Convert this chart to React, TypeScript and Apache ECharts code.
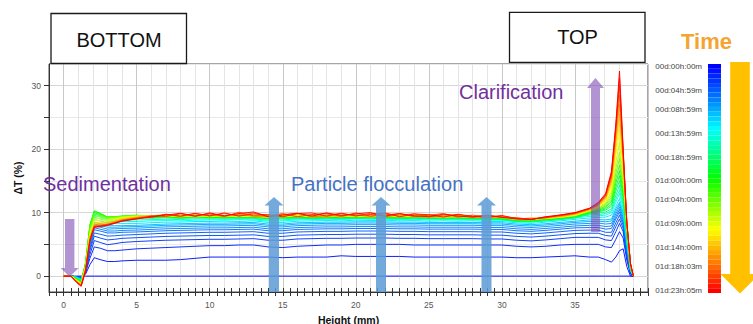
import React, { useEffect, useRef } from 'react';
import * as echarts from 'echarts';

// ---------- data ----------
const heights = [0, 0.5, 0.9, 1.2, 1.5, 1.8, 2.1, 2.5, 3, 3.5, 4, 5, 6, 7, 8, 9, 10, 11, 12, 13, 14, 15, 16, 17, 18, 19, 20, 21, 22, 23, 24, 25, 26, 27, 28, 29, 30, 31, 32, 33, 34, 35, 36, 36.6, 37.1, 37.5, 37.8, 38.05, 38.3, 38.55, 38.8, 39];

const scanHours = [0, 1, 2, 3, 4, 5, 6, 7, 8, 9, 10, 12, 14, 16, 18, 20, 22, 24, 26, 28, 30, 32, 34, 36, 38, 40, 42, 44, 46, 47.08];
const totalHours = 47.08;

const t00 = [0, 0, 0, 0, 0, 0, 0, 0, 0, 0, 0, 0, 0, 0, 0, 0, 0, 0, 0, 0, 0, 0, 0, 0, 0, 0, 0, 0, 0, 0, 0, 0, 0, 0, 0, 0, 0, 0, 0, 0, 0, 0, 0, 0, 0, 0, 0, 0, 0, 0, 0, 0];
const t01 = [0, 0, -0.1, -0.2, 0.3, 1.8, 2.9, 2.6, 2.3, 2.3, 2.4, 2.5, 2.5, 2.5, 2.6, 2.8, 3.0, 3.0, 3.0, 3.0, 3.0, 2.9, 3.0, 3.0, 3.0, 3.2, 3.1, 3.1, 3.1, 3.1, 3.0, 3.0, 3.0, 3.0, 3.0, 3.0, 3.0, 2.9, 2.9, 3.0, 3.1, 3.2, 3.0, 3.0, 2.6, 2.2, 3.0, 4.0, 4.3, 1.5, 0, 0];
const t02 = [0, 0, -0.1, -0.2, 0.5, 2.8, 4.6, 4.4, 4.0, 4.0, 4.1, 4.3, 4.4, 4.5, 4.6, 4.7, 4.8, 4.8, 4.9, 4.9, 4.6, 4.5, 4.7, 4.8, 4.9, 4.9, 5.0, 5.0, 5.0, 5.0, 4.9, 4.9, 4.9, 4.9, 4.9, 4.9, 4.9, 4.7, 4.6, 4.7, 4.9, 5.0, 5.0, 5.0, 4.6, 4.5, 5.8, 7.0, 6.0, 2.5, 0.3, 0];
const t03 = [0, 0, -0.1, -0.3, 0.6, 3.4, 5.6, 5.3, 4.95, 5.1, 5.3, 5.45, 5.55, 5.65, 5.7, 5.75, 5.8, 5.8, 5.85, 5.9, 5.65, 5.65, 5.85, 5.9, 5.95, 5.95, 6.0, 6.0, 6.0, 5.95, 5.95, 5.9, 5.9, 5.9, 5.9, 5.85, 5.85, 5.65, 5.55, 5.7, 5.9, 6.1, 6.1, 6.1, 5.7, 5.6, 7.0, 8.3, 7.0, 3.0, 0.4, 0];
const t04 = [0, 0, -0.1, -0.3, 0.8, 4.0, 6.3, 6.0, 5.7, 5.8, 5.95, 6.05, 6.15, 6.25, 6.3, 6.35, 6.4, 6.4, 6.45, 6.5, 6.25, 6.25, 6.45, 6.5, 6.55, 6.55, 6.6, 6.6, 6.6, 6.55, 6.55, 6.5, 6.5, 6.5, 6.5, 6.45, 6.45, 6.25, 6.15, 6.3, 6.5, 6.7, 6.75, 6.75, 6.4, 6.3, 7.8, 9.0, 7.5, 3.4, 0.5, 0];
const t05 = [0, 0, -0.1, -0.3, 0.9, 4.4, 6.8, 6.6, 6.3, 6.35, 6.45, 6.55, 6.65, 6.75, 6.8, 6.85, 6.9, 6.9, 6.95, 7.0, 6.75, 6.75, 6.95, 7.0, 7.05, 7.05, 7.1, 7.1, 7.1, 7.05, 7.05, 7.0, 7.0, 7.0, 7.0, 6.95, 6.95, 6.75, 6.65, 6.8, 7.0, 7.2, 7.25, 7.25, 6.9, 6.9, 8.4, 9.6, 8.0, 3.8, 0.6, 0];
const t06 = [0, 0, -0.15, -0.35, 1.0, 4.8, 7.3, 7.1, 6.8, 6.8, 6.9, 6.95, 7.05, 7.15, 7.2, 7.25, 7.3, 7.3, 7.35, 7.4, 7.15, 7.15, 7.35, 7.4, 7.45, 7.45, 7.5, 7.5, 7.5, 7.45, 7.45, 7.4, 7.4, 7.4, 7.4, 7.35, 7.35, 7.15, 7.05, 7.2, 7.4, 7.6, 7.65, 7.65, 7.4, 7.5, 9.0, 10.1, 8.4, 4.1, 0.7, 0];
const t07 = [0, 0, -0.15, -0.4, 1.1, 5.2, 7.6, 7.4, 7.1, 7.1, 7.2, 7.25, 7.35, 7.45, 7.5, 7.55, 7.6, 7.6, 7.65, 7.7, 7.45, 7.45, 7.65, 7.7, 7.75, 7.75, 7.8, 7.8, 7.8, 7.75, 7.75, 7.7, 7.7, 7.7, 7.7, 7.65, 7.65, 7.45, 7.35, 7.5, 7.7, 7.9, 8.0, 8.0, 7.8, 7.9, 9.4, 10.5, 8.8, 4.4, 0.8, 0];
const t08 = [0, 0, -0.15, -0.4, 1.2, 5.5, 7.9, 7.7, 7.4, 7.45, 7.5, 7.55, 7.65, 7.75, 7.8, 7.85, 7.9, 7.9, 7.95, 8.0, 7.75, 7.75, 7.95, 8.0, 8.05, 8.05, 8.1, 8.1, 8.1, 8.05, 8.05, 8.0, 8.0, 8.0, 8.0, 7.95, 7.95, 7.75, 7.65, 7.8, 8.0, 8.2, 8.3, 8.35, 8.2, 8.3, 9.8, 10.9, 9.2, 4.8, 0.9, 0];
const t09 = [0, 0, -0.2, -0.45, 1.2, 5.8, 8.2, 8.0, 7.7, 7.7, 7.75, 7.8, 7.9, 8.0, 8.05, 8.1, 8.15, 8.15, 8.2, 8.25, 8.0, 8.0, 8.2, 8.25, 8.3, 8.3, 8.35, 8.35, 8.35, 8.3, 8.3, 8.25, 8.25, 8.25, 8.25, 8.2, 8.2, 8.0, 7.9, 8.05, 8.25, 8.45, 8.6, 8.65, 8.55, 8.7, 10.2, 11.3, 9.6, 5.1, 1.0, 0];
const t10 = [0, 0, -0.2, -0.5, 1.2, 6.0, 8.5, 8.3, 7.95, 7.95, 7.95, 8.0, 8.1, 8.2, 8.25, 8.3, 8.35, 8.35, 8.4, 8.45, 8.2, 8.2, 8.4, 8.45, 8.5, 8.5, 8.55, 8.55, 8.55, 8.5, 8.5, 8.45, 8.45, 8.45, 8.45, 8.4, 8.4, 8.2, 8.1, 8.25, 8.45, 8.65, 8.85, 8.9, 8.85, 9.0, 10.6, 11.6, 10.0, 5.4, 1.1, 0];
const t12 = [0, 0, -0.2, -0.55, 1.3, 6.4, 8.9, 8.7, 8.35, 8.35, 8.3, 8.3, 8.4, 8.5, 8.5, 8.6, 8.6, 8.65, 8.6, 8.7, 8.45, 8.45, 8.65, 8.7, 8.75, 8.7, 8.8, 8.75, 8.8, 8.7, 8.75, 8.65, 8.7, 8.65, 8.7, 8.6, 8.6, 8.4, 8.3, 8.5, 8.7, 8.95, 9.15, 9.25, 9.3, 9.6, 11.0, 12.2, 10.0, 5.2, 0.9, 0];
const t14 = [0, 0, -0.25, -0.6, 1.4, 6.8, 9.3, 9.0, 8.6, 8.6, 8.6, 8.6, 8.7, 8.75, 8.7, 8.8, 8.85, 8.8, 8.9, 8.85, 8.65, 8.7, 8.85, 8.9, 8.95, 8.9, 9.0, 8.95, 8.95, 8.9, 8.95, 8.85, 8.9, 8.85, 8.85, 8.8, 8.8, 8.55, 8.5, 8.7, 8.9, 9.15, 9.4, 9.5, 9.6, 10.0, 11.6, 13.0, 10.6, 5.6, 1.0, 0];
const t16 = [0, 0, -0.3, -0.65, 1.5, 7.2, 9.6, 9.3, 8.8, 8.8, 8.85, 8.85, 8.9, 8.95, 8.9, 9.0, 9.0, 8.95, 9.05, 9.0, 8.8, 8.85, 9.0, 9.05, 9.1, 9.05, 9.1, 9.1, 9.05, 9.05, 9.1, 9.0, 9.05, 9.0, 9.0, 8.95, 8.9, 8.7, 8.65, 8.85, 9.05, 9.3, 9.6, 9.7, 9.85, 10.3, 12.1, 13.6, 11.2, 6.0, 1.1, 0];
const t18 = [0, 0, -0.3, -0.7, 1.6, 7.5, 9.8, 9.5, 9.0, 9.0, 9.1, 9.3, 9.1, 9.15, 9.1, 9.15, 9.15, 9.1, 9.15, 9.1, 8.95, 9.05, 9.1, 9.05, 9.1, 9.1, 9.1, 9.1, 9.1, 9.05, 9.05, 9.05, 9.0, 9.0, 8.95, 8.95, 8.9, 8.6, 8.55, 8.7, 8.9, 9.15, 9.75, 9.9, 10.1, 10.6, 12.7, 14.3, 11.7, 6.3, 1.2, 0];
const t20 = [0, 0, -0.35, -0.75, 1.8, 7.8, 10.0, 9.7, 9.2, 9.2, 9.3, 9.5, 9.2, 9.3, 9.15, 9.3, 9.2, 9.25, 9.2, 9.3, 9.05, 9.15, 9.25, 9.15, 9.2, 9.25, 9.15, 9.25, 9.2, 9.15, 9.2, 9.1, 9.15, 9.05, 9.1, 9.05, 9.0, 8.7, 8.65, 8.85, 9.05, 9.3, 9.85, 10.1, 10.4, 11.0, 13.4, 15.0, 12.3, 6.6, 1.3, 0];
const t22 = [0, 0, -0.4, -0.85, 2.0, 8.0, 10.2, 9.8, 9.3, 9.3, 9.4, 9.55, 9.25, 9.4, 9.2, 9.35, 9.3, 9.2, 9.35, 9.25, 9.1, 9.25, 9.3, 9.2, 9.3, 9.2, 9.3, 9.25, 9.3, 9.2, 9.25, 9.2, 9.15, 9.2, 9.1, 9.15, 9.05, 8.75, 8.7, 8.9, 9.1, 9.35, 9.95, 10.2, 10.6, 11.3, 14.0, 15.8, 12.8, 6.9, 1.4, 0];
const t24 = [0, 0, -0.45, -0.95, 2.2, 8.1, 10.3, 9.9, 9.3, 9.35, 9.45, 9.6, 9.3, 9.35, 9.3, 9.45, 9.3, 9.35, 9.4, 9.3, 9.15, 9.3, 9.35, 9.3, 9.25, 9.35, 9.3, 9.4, 9.25, 9.3, 9.3, 9.2, 9.25, 9.25, 9.15, 9.2, 9.1, 8.8, 8.75, 8.95, 9.15, 9.4, 10.05, 10.35, 10.8, 11.7, 14.7, 16.6, 13.4, 7.2, 1.5, 0];
const t26 = [0, 0, -0.5, -1.0, 2.0, 7.9, 10.1, 9.8, 9.3, 9.35, 9.45, 9.55, 9.35, 9.4, 9.35, 9.45, 9.4, 9.3, 9.45, 9.35, 9.2, 9.3, 9.4, 9.35, 9.3, 9.45, 9.35, 9.3, 9.4, 9.3, 9.35, 9.3, 9.2, 9.3, 9.2, 9.2, 9.15, 8.85, 8.8, 9.0, 9.2, 9.45, 10.15, 10.5, 11.0, 12.0, 15.4, 17.5, 14.0, 7.4, 1.6, 0];
const t28 = [0, 0, -0.55, -1.05, 1.8, 7.6, 9.8, 9.6, 9.2, 9.3, 9.4, 9.55, 9.4, 9.45, 9.4, 9.5, 9.35, 9.45, 9.4, 9.5, 9.2, 9.35, 9.45, 9.35, 9.45, 9.35, 9.45, 9.4, 9.35, 9.45, 9.35, 9.3, 9.35, 9.25, 9.3, 9.2, 9.2, 8.9, 8.85, 9.05, 9.25, 9.5, 10.2, 10.6, 11.2, 12.4, 16.2, 18.5, 14.6, 7.6, 1.6, 0];
const t30 = [0, 0, -0.6, -1.1, 1.5, 7.2, 9.4, 9.4, 9.1, 9.2, 9.35, 9.5, 9.35, 9.5, 9.4, 9.45, 9.5, 9.4, 9.5, 9.4, 9.3, 9.45, 9.4, 9.45, 9.35, 9.5, 9.4, 9.45, 9.4, 9.35, 9.45, 9.35, 9.3, 9.35, 9.3, 9.3, 9.25, 8.95, 8.9, 9.1, 9.3, 9.55, 10.25, 10.7, 11.4, 12.8, 17.0, 19.5, 15.2, 7.8, 1.7, 0];
const t32 = [0, 0, -0.65, -1.2, 1.5, 6.8, 9.0, 9.1, 8.9, 9.1, 9.3, 9.45, 9.4, 9.5, 9.35, 9.5, 9.4, 9.5, 9.4, 9.45, 9.3, 9.4, 9.5, 9.35, 9.45, 9.4, 9.45, 9.35, 9.45, 9.4, 9.35, 9.45, 9.3, 9.4, 9.3, 9.25, 9.3, 8.95, 8.95, 9.1, 9.25, 9.55, 10.3, 10.8, 11.6, 13.3, 18.0, 21.0, 15.8, 8.0, 1.7, 0];
const t34 = [0, 0, -0.7, -1.25, 1.4, 6.6, 8.7, 8.8, 8.7, 8.95, 9.2, 9.4, 9.45, 9.55, 9.4, 9.55, 9.45, 9.55, 9.4, 9.5, 9.35, 9.45, 9.55, 9.35, 9.5, 9.45, 9.5, 9.4, 9.5, 9.45, 9.4, 9.5, 9.35, 9.45, 9.35, 9.3, 9.35, 9.0, 9.0, 9.1, 9.3, 9.6, 10.35, 10.9, 11.8, 13.8, 19.0, 22.5, 16.5, 8.1, 1.8, 0];
const t36 = [0, 0, -0.75, -1.3, 1.3, 6.4, 8.4, 8.5, 8.5, 8.8, 9.1, 9.35, 9.5, 9.45, 9.6, 9.4, 9.6, 9.5, 9.45, 9.6, 9.4, 9.5, 9.6, 9.4, 9.5, 9.6, 9.45, 9.55, 9.5, 9.4, 9.55, 9.45, 9.4, 9.5, 9.35, 9.4, 9.3, 9.05, 9.05, 9.15, 9.35, 9.65, 10.4, 11.0, 12.0, 14.3, 20.0, 24.0, 17.2, 8.2, 1.8, 0];
const t38 = [0, 0, -0.8, -1.35, 1.2, 6.2, 8.2, 8.3, 8.35, 8.65, 8.95, 9.3, 9.5, 9.7, 9.35, 9.75, 9.6, 9.4, 9.8, 9.4, 9.55, 9.75, 9.35, 9.7, 9.6, 9.3, 9.8, 9.5, 9.4, 9.7, 9.5, 9.3, 9.6, 9.45, 9.3, 9.5, 9.25, 9.05, 8.9, 9.25, 9.35, 9.75, 10.45, 11.1, 12.2, 14.8, 21.0, 25.5, 17.8, 8.3, 1.9, 0];
const t40 = [0, 0, -0.85, -1.4, 1.1, 6.0, 8.0, 8.1, 8.2, 8.5, 8.85, 9.2, 9.55, 9.35, 9.8, 9.4, 9.85, 9.45, 9.7, 9.45, 9.65, 9.4, 9.8, 9.5, 9.35, 9.8, 9.65, 9.35, 9.9, 9.45, 9.6, 9.7, 9.35, 9.55, 9.4, 9.25, 9.5, 9.0, 9.15, 9.15, 9.45, 9.8, 10.5, 11.2, 12.4, 15.2, 21.8, 27.0, 18.4, 8.3, 1.9, 0];
const t42 = [0, 0, -0.9, -1.45, 1.0, 5.8, 7.9, 8.0, 8.15, 8.45, 8.8, 9.15, 9.3, 9.7, 9.4, 9.85, 9.45, 9.85, 9.5, 9.95, 9.35, 9.7, 9.9, 9.3, 9.65, 9.85, 9.45, 9.9, 9.35, 9.65, 9.8, 9.3, 9.6, 9.7, 9.25, 9.55, 9.35, 9.15, 8.95, 9.25, 9.5, 9.85, 10.55, 11.3, 12.6, 15.6, 22.6, 28.5, 19.0, 8.4, 1.9, 0];
const t44 = [0, 0, -0.95, -1.5, 0.9, 5.7, 7.8, 7.9, 8.1, 8.4, 8.75, 9.1, 9.45, 9.4, 9.85, 9.45, 9.8, 9.4, 10.05, 9.5, 9.45, 9.85, 9.35, 9.7, 9.9, 9.4, 9.95, 9.45, 9.65, 9.85, 9.35, 9.6, 9.85, 9.3, 9.6, 9.35, 9.3, 9.2, 8.9, 9.35, 9.55, 9.9, 10.6, 11.4, 12.7, 15.9, 23.2, 30.0, 19.4, 8.4, 2.0, 0];
const t46 = [0, 0, -1.0, -1.55, 0.8, 5.6, 7.75, 7.85, 8.05, 8.35, 8.7, 9.05, 9.25, 9.75, 9.45, 9.9, 9.5, 9.95, 9.45, 9.8, 9.65, 9.35, 9.85, 9.95, 9.45, 9.9, 9.5, 9.7, 9.95, 9.35, 9.8, 9.65, 9.3, 9.75, 9.4, 9.25, 9.55, 9.05, 9.0, 9.2, 9.65, 9.95, 10.65, 11.5, 12.85, 16.2, 23.6, 31.2, 19.7, 8.5, 2.0, 0];
const t47 = [0, 0, -1.0, -1.6, 0.7, 5.5, 7.7, 7.8, 8.0, 8.3, 8.65, 9.0, 9.4, 9.6, 9.9, 9.45, 9.95, 9.5, 9.85, 10.1, 9.35, 9.6, 9.9, 9.45, 9.95, 9.55, 9.8, 10.0, 9.45, 9.85, 9.5, 9.35, 9.75, 9.45, 9.3, 9.6, 9.25, 9.0, 8.9, 9.35, 9.6, 10.0, 10.7, 11.6, 13.0, 16.5, 24.0, 32.3, 20.0, 8.5, 2.0, 0];

const profiles = [t00, t01, t02, t03, t04, t05, t06, t07, t08, t09, t10, t12, t14, t16, t18, t20, t22, t24, t26, t28, t30, t32, t34, t36, t38, t40, t42, t44, t46, t47];

const xTickLabels = [0, 5, 10, 15, 20, 25, 30, 35];
const yTicks = [0, 5, 10, 15, 20, 25, 30];
const yTickLabels = [0, 10, 20, 30];

const scanCount = 48;
const barLabelScans = [0, 5, 9, 14, 19, 24, 28, 33, 38, 42, 47];
const barLabels = ['00d:00h:00m', '00d:04h:59m', '00d:08h:59m', '00d:13h:59m', '00d:18h:59m', '01d:00h:00m', '01d:04h:00m', '01d:09h:00m', '01d:14h:00m', '01d:18h:03m', '01d:23h:05m'];

// ---------- styles ----------
const FONT = "'Liberation Sans', Arial, Helvetica, sans-serif";
const colorStops: Array<[number, number[]]> = [
  [0, [0, 0, 255]],
  [0.13, [0, 112, 255]],
  [0.28, [0, 255, 255]],
  [0.5, [0, 255, 0]],
  [0.73, [255, 255, 0]],
  [0.87, [255, 128, 0]],
  [1, [255, 0, 0]],
];
function colorAt(f: number): string {
  for (let k = 1; k < colorStops.length; k++) {
    const [f0, c0] = colorStops[k - 1];
    const [f1, c1] = colorStops[k];
    if (f <= f1) {
      const u = (f - f0) / (f1 - f0);
      const c = c0.map((v, j) => Math.round(v + (c1[j] - v) * u));
      return `rgb(${c[0]},${c[1]},${c[2]})`;
    }
  }
  return 'rgb(255,0,0)';
}

const NONE = 'rgba(0,0,0,0)';
const GL = '#e4e4e4';
const GD = '#c8c8c8';
const purpleArrow = 'rgba(120,70,175,0.58)';
const blueArrow = 'rgba(91,155,213,0.85)';

function upArrow(cx: number, tip: number, headBase: number, bottom: number, headHalf: number, shaftHalf: number) {
  return [
    [cx, tip], [cx + headHalf, headBase], [cx + shaftHalf, headBase], [cx + shaftHalf, bottom],
    [cx - shaftHalf, bottom], [cx - shaftHalf, headBase], [cx - headHalf, headBase],
  ];
}
function downArrow(cx: number, top: number, headBase: number, tip: number, headHalf: number, shaftHalf: number) {
  return [
    [cx - shaftHalf, top], [cx + shaftHalf, top], [cx + shaftHalf, headBase], [cx + headHalf, headBase],
    [cx, tip], [cx - headHalf, headBase], [cx - shaftHalf, headBase],
  ];
}

function buildOption() {
  const lineSeries = profiles.map((p, s) => ({
    type: 'line',
    xAxisIndex: 0,
    yAxisIndex: 0,
    data: heights.map((h, i) => [h, p[i]]),
    symbol: 'none',
    showSymbol: false,
    silent: true,
    lineStyle: { width: 1, color: colorAt(scanHours[s] / totalHours), opacity: 0.95 },
    z: 2,
  }));

  const scanNames: string[] = [];
  const barData: any[] = [];
  for (let i = 0; i < scanCount; i++) {
    const k = barLabelScans.indexOf(i);
    scanNames.push(k >= 0 ? barLabels[k] : '');
    barData.push({ value: 1, itemStyle: { color: colorAt(i / (scanCount - 1)) } });
  }

  const textBase = { fontFamily: FONT };

  return {
    animation: false,
    backgroundColor: '#ffffff',
    textStyle: { fontFamily: FONT },
    grid: [
      { left: 49, top: 64, width: 599, height: 228, show: true, borderColor: '#4a4a4a', borderWidth: 1, backgroundColor: 'transparent', containLabel: false, outerBoundsMode: 'none' },
      { left: 708, top: 64, width: 13, height: 229, show: false, containLabel: false, outerBoundsMode: 'none' },
    ],
    xAxis: [
      {
        type: 'value', gridIndex: 0, position: 'bottom', min: -1, max: 40, interval: 0.5,
        axisLine: { show: true, onZero: false, lineStyle: { color: '#333', width: 1 } },
        axisTick: { show: true, inside: false, length: 4, lineStyle: { color: '#333', width: 1 } },
        axisLabel: { customValues: xTickLabels, fontSize: 8.5, color: '#555', margin: 8 },
        splitLine: { show: true, lineStyle: { width: 1, color: [GL, NONE, GD, NONE, GL, NONE, GL, NONE, GL, NONE] } },
        name: 'Height (mm)', nameLocation: 'middle', nameGap: 22, nameMoveOverlap: false,
        nameTextStyle: { fontWeight: 'bold', fontSize: 10.5, color: '#111' },
      },
      {
        type: 'value', gridIndex: 0, position: 'bottom', min: -1, max: 40, interval: 0.5,
        axisLine: { show: false, onZero: false },
        axisTick: { show: true, inside: true, length: 4, lineStyle: { color: '#333', width: 1 } },
        axisLabel: { show: false },
        splitLine: { show: false },
      },
      {
        type: 'value', gridIndex: 1, min: 0, max: 1, show: false,
      },
    ],
    yAxis: [
      {
        type: 'value', gridIndex: 0, position: 'left', min: -2.5, max: 33.4, interval: 2.5,
        axisLine: { show: true, onZero: false, lineStyle: { color: '#333', width: 1 } },
        axisTick: { show: true, customValues: yTicks, length: 5, lineStyle: { color: '#333', width: 1 } },
        axisLabel: { customValues: yTickLabels, fontSize: 8.5, color: '#555', margin: 8 },
        splitLine: { show: false },
        name: 'ΔT (%)', nameLocation: 'middle', nameGap: 26, nameRotate: 90, nameMoveOverlap: false,
        nameTextStyle: { fontWeight: 'bold', fontSize: 10.5, color: '#111' },
      },
      {
        type: 'value', gridIndex: 0, position: 'left', min: -2.5, max: 33.4, interval: 2.5,
        axisLine: { show: false, onZero: false }, axisTick: { show: false }, axisLabel: { show: false },
        splitLine: { show: true, lineStyle: { width: 1, color: [NONE, '#d6d6d6', NONE, '#e9e9e9'] } },
      },
      {
        type: 'category', gridIndex: 1, inverse: true, data: scanNames,
        axisLine: { show: false }, axisTick: { show: false }, splitLine: { show: false },
        axisLabel: { interval: 0, fontSize: 8, color: '#444', margin: 6 },
      },
    ],
    series: [
      ...lineSeries,
      {
        type: 'bar', xAxisIndex: 2, yAxisIndex: 2, data: barData,
        barCategoryGap: '0%', barWidth: '100%', silent: true,
      },
    ],
    graphic: [
      // BOTTOM / TOP boxes
      { type: 'rect', z: 20, shape: { x: 51, y: 13.5, width: 135.5, height: 50 }, style: { fill: '#fff', stroke: '#1a1a1a', lineWidth: 1.3 } },
      { type: 'text', z: 21, x: 119, y: 39.5, style: { ...textBase, text: 'BOTTOM', fontSize: 20, fill: '#111', align: 'center', verticalAlign: 'middle' } },
      { type: 'rect', z: 20, shape: { x: 509.5, y: 12.3, width: 135.5, height: 50 }, style: { fill: '#fff', stroke: '#1a1a1a', lineWidth: 1.3 } },
      { type: 'text', z: 21, x: 577.5, y: 37, style: { ...textBase, text: 'TOP', fontSize: 20, fill: '#111', align: 'center', verticalAlign: 'middle' } },
      // Time arrow
      { type: 'text', z: 21, x: 706.5, y: 41, style: { ...textBase, text: 'Time', fontSize: 22, fontWeight: 'bold', fill: '#F4A431', align: 'center', verticalAlign: 'middle' } },
      { type: 'polygon', z: 20, shape: { points: downArrow(740, 62, 274, 293.5, 19.5, 9.8) }, style: { fill: '#FFC000' } },
      // annotation arrows
      { type: 'polygon', z: 30, shape: { points: downArrow(69.7, 219, 268, 276.7, 9, 4.7) }, style: { fill: purpleArrow } },
      { type: 'polygon', z: 30, shape: { points: upArrow(595.5, 78, 88, 232, 8.5, 4.5) }, style: { fill: purpleArrow } },
      { type: 'polygon', z: 30, shape: { points: upArrow(274, 197, 205.5, 292, 9.5, 5) }, style: { fill: blueArrow } },
      { type: 'polygon', z: 30, shape: { points: upArrow(381, 197, 205.5, 292, 9.5, 5) }, style: { fill: blueArrow } },
      { type: 'polygon', z: 30, shape: { points: upArrow(486.5, 197, 205.5, 292, 9.5, 5) }, style: { fill: blueArrow } },
      // annotation texts
      { type: 'text', z: 31, x: 43, y: 184, style: { ...textBase, text: 'Sedimentation', fontSize: 20, fill: '#7030A0', align: 'left', verticalAlign: 'middle' } },
      { type: 'text', z: 31, x: 291, y: 184, style: { ...textBase, text: 'Particle flocculation', fontSize: 20, fill: '#4472C4', align: 'left', verticalAlign: 'middle' } },
      { type: 'text', z: 31, x: 459, y: 92, style: { ...textBase, text: 'Clarification', fontSize: 20, fill: '#7030A0', align: 'left', verticalAlign: 'middle' } },
    ],
  };
}

export default function App() {
  const ref = useRef<HTMLDivElement>(null);
  useEffect(() => {
    if (!ref.current) return;
    const chart = echarts.init(ref.current, undefined, { renderer: 'svg' });
    chart.setOption(buildOption() as any);
    return () => chart.dispose();
  }, []);
  return <div ref={ref} style={{ position: 'absolute', left: 0, top: 0, width: 753, height: 324 }} />;
}
